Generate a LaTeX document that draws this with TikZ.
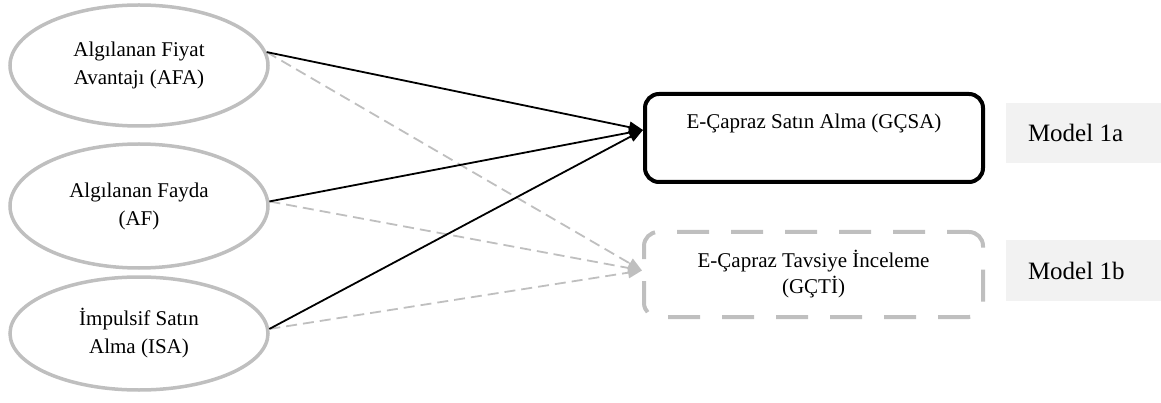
\documentclass[tikz,border=0pt]{standalone}
\usepackage{fontspec}
\setmainfont{Liberation Serif}
\usetikzlibrary{shapes.geometric,arrows.meta}
\definecolor{lgray}{HTML}{BFBFBF}
\definecolor{mfill}{HTML}{F2F2F2}
\begin{document}
\begin{tikzpicture}[x=1pt,y=-1pt,
  ell/.style={ellipse, draw=lgray, line width=3.5pt, inner sep=0pt, minimum width=258pt, align=center, font=\fontsize{21}{28}\selectfont},
  mainbox/.style={rectangle, rounded corners=14pt, draw=black, line width=4pt, minimum width=338pt, minimum height=88pt, font=\fontsize{21}{27}\selectfont, text height=15pt, text depth=33pt},
  altbox/.style={rectangle, rounded corners=14pt, draw=lgray, line width=4pt, dash pattern=on 32pt off 22pt, dash phase=10pt, minimum width=339pt, minimum height=85pt, align=center, font=\fontsize{21}{26}\selectfont},
  modelbox/.style={rectangle, fill=mfill, minimum width=155pt, minimum height=60pt, inner xsep=22pt, text width=111pt, align=flush left, font=\fontsize{25}{30}\selectfont},
  solidarr/.style={draw=black, line width=1.8pt, -{Triangle[length=14pt,width=11pt]}},
  dasharr/.style={draw=lgray, line width=1.8pt, dash pattern=on 11pt off 6pt, -{Triangle[length=14pt,width=11pt]}}
]
\useasboundingbox (0,0) rectangle (1161,403);

\node[ell, minimum height=121pt] (e1) at (139,65.5) {Algılanan Fiyat\\Avantajı (AFA)};
\node[ell, minimum height=124pt] (e2) at (139,206) {Algılanan Fayda\\(AF)};
\node[ell, minimum height=113pt] (e3) at (139,333.5) {İmpulsif Satın\\Alma (ISA)};

\node[mainbox] (b1) at (814,138) {E-Çapraz Satın Alma (GÇSA)};
\node[altbox] (b2) at (813.5,274.5) {E-Çapraz Tavsiye İnceleme\\(GÇTİ)};

\node[modelbox] (m1) at (1083.5,133) {Model 1a};
\node[modelbox] (m2) at (1083.5,270.5) {Model 1b};

\draw[dasharr] (e1.6) -- ([yshift=4pt]b2.west);
\draw[dasharr] (e2.2) -- ([yshift=4pt]b2.west);
\draw[dasharr] (e3.2) -- ([yshift=4pt]b2.west);

\draw[solidarr] (e1.6) -- ([yshift=8pt]b1.west);
\draw[solidarr] (e2.2) -- ([yshift=8pt]b1.west);
\draw[solidarr] (e3.2) -- ([yshift=8pt]b1.west);
\end{tikzpicture}
\end{document}
